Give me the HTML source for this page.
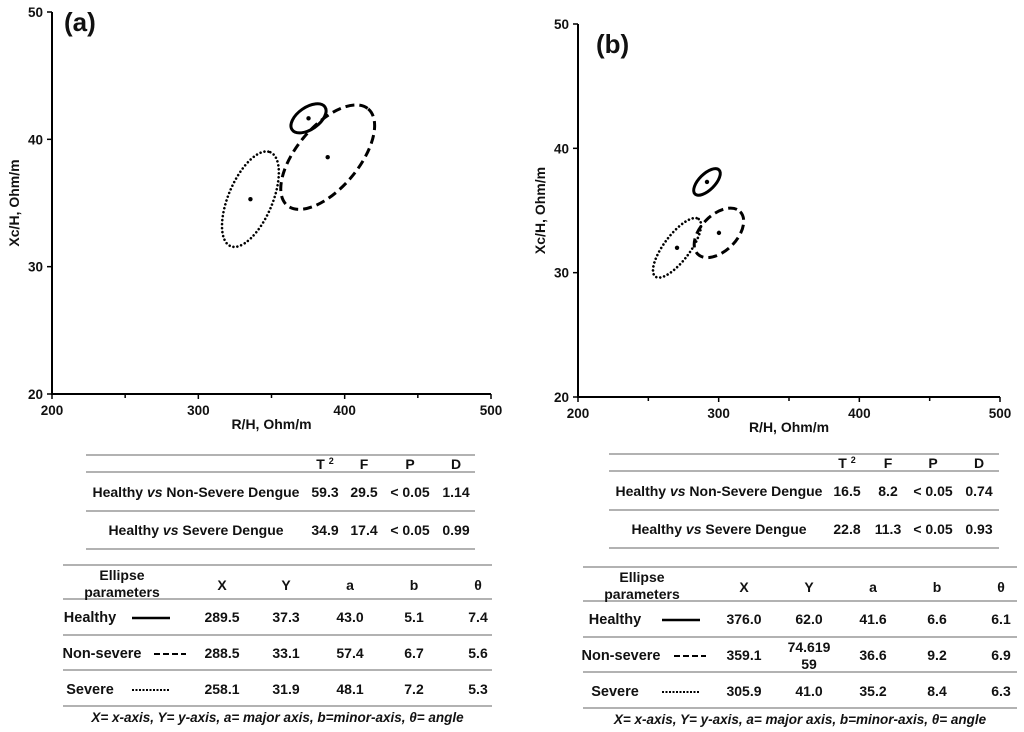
<!DOCTYPE html>
<html><head><meta charset="utf-8"><style>
body{margin:0;background:#fff;width:1024px;height:732px;overflow:hidden;font-family:"Liberation Sans",sans-serif;font-weight:bold;color:#111}
svg{position:absolute;left:0;top:0}
text{font-family:"Liberation Sans",sans-serif;font-weight:bold;fill:#111}
</style></head><body>
<svg id="s" width="1024" height="732"></svg>
<script>
const xTicks=[200,300,400,500];
const yTicks=[20,30,40,50];
const groups=["healthy","non-severe","severe"];
const panelACx=[375.3,388.4,335.6];
const panelACy=[41.65,38.6,35.3];
const panelARa=[20,63,51];
const panelARb=[11,31,22];
const panelAAng=[-35,-50,-67];
const panelBCx=[291.7,300.2,270.4];
const panelBCy=[37.3,33.2,32.0];
const panelBRa=[17,30,36];
const panelBRb=[8,18,13];
const panelBAng=[-45,-45,-53];
const NS="http://www.w3.org/2000/svg";
const svg=document.getElementById('s');
function mk(tag,attrs,parent){const e=document.createElementNS(NS,tag);for(const k in attrs)e.setAttribute(k,attrs[k]);(parent||svg).appendChild(e);return e;}
const dashes=["", "9 5","0 4"];
function panel(id,x0,x1,y0,y1,label,lx,ly,cx,cy,ra,rb,ang){
  const g=mk('g',{});
  
  
  const sx=v=>x0+(v-200)/300*(x1-x0);
  const sy=v=>y0-(v-20)/30*(y0-y1);
  const ax=mk('path',{d:`M${x0},${y1}V${y0}H${x1}`,stroke:'#000','stroke-width':2,fill:'none'},g);
  
  
  xTicks.forEach((t,i)=>{
    const x=sx(t);
    mk('line',{x1:x,x2:x,y1:y0,y2:y0+5,stroke:'#000','stroke-width':1.5},g);
    if(i<xTicks.length-1){const xm=sx(t+50);mk('line',{x1:xm,x2:xm,y1:y0,y2:y0+4,stroke:'#000','stroke-width':1.5},g);}
    const tx=mk('text',{x:x,y:y0+21,'text-anchor':'middle','font-size':13.5},g);tx.textContent=t;
    
    
  });
  yTicks.forEach(t=>{
    const y=sy(t);
    mk('line',{x1:x0-5,x2:x0,y1:y,y2:y,stroke:'#000','stroke-width':1.5},g);
    const ty=mk('text',{x:x0-9,y:y+5,'text-anchor':'end','font-size':13.5},g);ty.textContent=t;
    
    
  });
  const xt=mk('text',{x:(x0+x1)/2,y:y0+35,'text-anchor':'middle','font-size':14},g);xt.textContent='R/H, Ohm/m';
  
  
  const yt=mk('text',{x:0,y:0,'text-anchor':'middle','font-size':14,transform:`translate(${x0-33},${(y0+y1)/2}) rotate(-90)`},g);yt.textContent='Xc/H, Ohm/m';
  
  
  const pl=mk('text',{x:lx,y:ly,'font-size':26},g);pl.textContent=label;
  
  
  groups.forEach((n,i)=>{
    const px=sx(cx[i]),py=sy(cy[i]);
    const e=mk('ellipse',{cx:0,cy:0,rx:ra[i],ry:rb[i],fill:'none',stroke:'#000','stroke-width':i==0?3:(i==1?3:2.6),'stroke-linecap':i==2?'round':'butt',transform:`translate(${px},${py}) rotate(${ang[i]})`},g);
    if(dashes[i])e.setAttribute('stroke-dasharray',dashes[i]);
    
    
    const c=mk('circle',{cx:px,cy:py,r:2.2,fill:'#000'},g);
    
    
  });
}
panel('a',52,491,394,12,'(a)',64,31,panelACx,panelACy,panelARa,panelARb,panelAAng);
panel('b',578,1000,397,24,'(b)',596,53,panelBCx,panelBCy,panelBRa,panelBRb,panelBAng);

function txt(x,y,s,anchor,size,extra){const t=mk('text',Object.assign({x:x,y:y,'text-anchor':anchor||'middle','font-size':size||14},extra||{}));t.innerHTML=s;return t;}
function hl(x1,x2,y){const l=mk('line',{x1:x1,x2:x2,y1:y,y2:y,stroke:'#999','stroke-width':1.5});}
function tables(o){
  [0,17,56,94].forEach(d=>hl(o.tx1,o.tx2,o.ty+d));
  const h=o.ty+14;
  txt(o.c[0],h,'T <tspan font-size="9" dy="-5">2</tspan>');txt(o.c[1],h,'F');txt(o.c[2],h,'P');txt(o.c[3],h,'D');
  o.rows.forEach((r,i)=>{const y=o.ty+42+i*38;
    txt(o.lab,y,r[0]);r.slice(1).forEach((v,j)=>txt(o.c[j],y,v));});
  [0,34,70,105,141].forEach(d=>hl(o.bx1,o.bx2,o.by+d));
  txt(o.ep,o.by+15,'Ellipse');txt(o.ep,o.by+32,'parameters');
  ['X','Y','a','b','θ'].forEach((v,j)=>txt(o.k[j],o.by+25,v));
  o.erows.forEach((r,i)=>{const y=o.by+57+i*36;
    txt(o.nm[i],y,r[0],'middle',14.5);
    const lx=o.leg[i];
    const l=mk('line',{x1:lx,x2:lx+(i==1?32:38),y1:y-4,y2:y-4,stroke:'#000','stroke-width':i==0?2.5:2,'stroke-dasharray':i==0?'':(i==1?'6 3':'2 1.5')});
    
    
    r.slice(1).forEach((v,j)=>{if(Array.isArray(v)){txt(o.k[j],y-8,v[0]);txt(o.k[j],y+9,v[1]);}else txt(o.k[j],y,v);});
  });
  txt((o.bx1+o.bx2)/2,o.by+157,'X= x-axis, Y= y-axis, a= major axis, b=minor-axis, θ= angle','middle',13.5,{'font-style':'italic'});
}
tables({tx1:86,tx2:475,ty:455,c:[325,364,410,456],lab:196,
 rows:[['Healthy <tspan font-style="italic">vs</tspan> Non-Severe Dengue','59.3','29.5','&lt; 0.05','1.14'],['Healthy <tspan font-style="italic">vs</tspan> Severe Dengue','34.9','17.4','&lt; 0.05','0.99']],
 bx1:63,bx2:492,by:565,ep:122,k:[222,286,350,414,478],nm:[90,102,90],leg:[132,154,132],
 erows:[['Healthy','289.5','37.3','43.0','5.1','7.4'],['Non-severe','288.5','33.1','57.4','6.7','5.6'],['Severe','258.1','31.9','48.1','7.2','5.3']]});
tables({tx1:609,tx2:999,ty:454,c:[847,888,933,979],lab:719,
 rows:[['Healthy <tspan font-style="italic">vs</tspan> Non-Severe Dengue','16.5','8.2','&lt; 0.05','0.74'],['Healthy <tspan font-style="italic">vs</tspan> Severe Dengue','22.8','11.3','&lt; 0.05','0.93']],
 bx1:583,bx2:1017,by:567,ep:642,k:[744,809,873,937,1001],nm:[615,621,615],leg:[662,674,662],
 erows:[['Healthy','376.0','62.0','41.6','6.6','6.1'],['Non-severe','359.1',['74.619','59'],'36.6','9.2','6.9'],['Severe','305.9','41.0','35.2','8.4','6.3']]});
</script>
</body></html>
